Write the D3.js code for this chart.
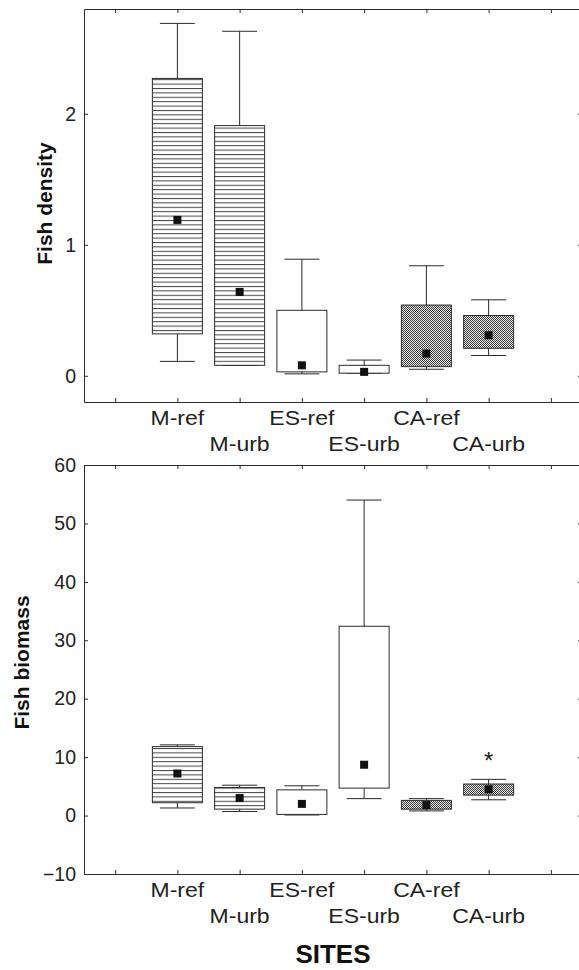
<!DOCTYPE html>
<html>
<head>
<meta charset="utf-8">
<script src="https://cdn.jsdelivr.net/npm/d3@7"></script>
<style>
  body { margin: 0; background: #fff; }
  svg { display: block; font-family: "Liberation Sans", Arial, sans-serif; }
</style>
</head>
<body>
<svg id="chart" width="579" height="970"></svg>
<script>
// sites, with an empty slot at each end of the axis
const sites = ["M-ref", "M-urb", "ES-ref", "ES-urb", "CA-ref", "CA-urb"];
const slots = ["pad0", ...sites, "pad1"];

// fish density
const densityMin  = [0.11, 0.08, 0.015, 0.02, 0.05, 0.155];
const densityQ1   = [0.32, 0.08, 0.03, 0.02, 0.07, 0.21];
const densityMean = [1.19, 0.64, 0.08, 0.03, 0.17, 0.31];
const densityQ3   = [2.27, 1.91, 0.50, 0.08, 0.54, 0.46];
const densityMax  = [2.69, 2.63, 0.89, 0.12, 0.84, 0.58];
const densityTicks = [0, 1, 2];

// fish biomass
const biomassMin  = [1.3, 0.7, 0.1, 2.9, 0.8, 2.7];
const biomassQ1   = [2.2, 1.1, 0.2, 4.7, 1.1, 3.5];
const biomassMean = [7.2, 3.0, 2.0, 8.7, 1.8, 4.5];
const biomassQ3   = [11.8, 4.8, 4.4, 32.4, 2.6, 5.4];
const biomassMax  = [12.1, 5.2, 5.1, 54.0, 2.9, 6.2];
const biomassTicks = [-10, 0, 10, 20, 30, 40, 50, 60];
const biomassStar = { site: "CA-urb", value: 10 };

const svg = d3.select("#chart");
const ink = "#2b2b2b";

// fill patterns
const defs = svg.append("defs");
const hl = defs.append("pattern").attr("id", "hlines")
  .attr("patternUnits", "userSpaceOnUse").attr("width", 8).attr("height", 4.4);
hl.append("rect").attr("width", 8).attr("height", 4.4).attr("fill", "#fff");
hl.append("line").attr("x1", 0).attr("x2", 8).attr("y1", 0.5).attr("y2", 0.5)
  .attr("stroke", "#444").attr("stroke-width", 1);

const ck = defs.append("pattern").attr("id", "checker")
  .attr("patternUnits", "userSpaceOnUse").attr("width", 2).attr("height", 2);
ck.append("rect").attr("width", 2).attr("height", 2).attr("fill", "#ececec");
ck.append("rect").attr("width", 1).attr("height", 1).attr("fill", "#3a3a3a");
ck.append("rect").attr("x", 1).attr("y", 1).attr("width", 1).attr("height", 1).attr("fill", "#3a3a3a");

const fillFor = s => s.startsWith("M-") ? "url(#hlines)" : s.startsWith("CA") ? "url(#checker)" : "#fff";

const x = d3.scalePoint().domain(slots).range([84, 582]).padding(0.5);

function drawPanel(p) {
  const y = d3.scaleLinear().domain(p.domain).range([p.bottom, p.top]);
  const g = svg.append("g");

  const rows = sites.map((s, i) => ({
    site: s, min: p.min[i], q1: p.q1[i], mean: p.mean[i], q3: p.q3[i], max: p.max[i]
  }));

  // axes (ticks point inward)
  const axes = [
    [d3.axisLeft(y).tickValues(p.ticks).tickFormat(d3.format("d")), `translate(84,0)`],
    [d3.axisRight(y).tickValues(p.ticks).tickFormat(""), `translate(582,0)`],
    [d3.axisBottom(x).tickFormat(""), `translate(0,${p.bottom})`],
    [d3.axisTop(x).tickFormat(""), `translate(0,${p.top})`]
  ];
  axes.forEach(([ax, tr]) => {
    const a = g.append("g").attr("transform", tr)
      .call(ax.tickSize(-4).tickSizeOuter(0).tickPadding(8));
    a.select(".domain").attr("stroke", ink);
    a.selectAll(".tick line").attr("stroke", ink);
    a.selectAll(".tick text").attr("fill", "#222").attr("font-size", 19.5)
      .attr("font-family", "Liberation Sans, Arial, sans-serif");
  });

  const cap = 17.5, half = 25;
  const box = g.selectAll(".box").data(rows).enter().append("g");

  box.append("line")
    .attr("x1", d => x(d.site)).attr("x2", d => x(d.site))
    .attr("y1", d => y(d.max)).attr("y2", d => y(d.min))
    .attr("stroke", ink);
  box.append("line")
    .attr("x1", d => x(d.site) - cap).attr("x2", d => x(d.site) + cap)
    .attr("y1", d => y(d.max)).attr("y2", d => y(d.max))
    .attr("stroke", ink);
  box.append("line")
    .attr("x1", d => x(d.site) - cap).attr("x2", d => x(d.site) + cap)
    .attr("y1", d => y(d.min)).attr("y2", d => y(d.min))
    .attr("stroke", ink);
  box.append("rect")
    .attr("x", d => x(d.site) - half).attr("width", half * 2)
    .attr("y", d => y(d.q3)).attr("height", d => Math.max(1, y(d.q1) - y(d.q3)))
    .attr("fill", d => fillFor(d.site))
    .attr("stroke", ink);
  box.append("rect")
    .attr("x", d => x(d.site) - 4).attr("y", d => y(d.mean) - 4)
    .attr("width", 8).attr("height", 8)
    .attr("fill", "#111");

  // staggered site labels, glyphs a little wide as in the original
  g.selectAll(".site").data(sites).enter().append("text")
    .attr("transform", (d, i) =>
      `translate(${x(d)},${p.bottom + (i % 2 === 0 ? 23 : 49)}) scale(1.15,1)`)
    .attr("text-anchor", "middle")
    .attr("font-size", 20)
    .attr("fill", "#222")
    .text(d => d);

  g.append("text")
    .attr("transform", `translate(${p.titleX},${(p.top + p.bottom) / 2 + p.titleDy}) rotate(-90)`)
    .attr("text-anchor", "middle")
    .attr("font-size", 21).attr("font-weight", "bold")
    .attr("fill", "#111")
    .text(p.title);

  if (p.star) {
    g.append("text")
      .attr("x", x(p.star.site)).attr("y", y(p.star.value) + 12)
      .attr("text-anchor", "middle")
      .attr("font-size", 24).attr("fill", "#222")
      .text("*");
  }
}

drawPanel({
  title: "Fish density", titleX: 52, titleDy: -2,
  top: 9, bottom: 402, domain: [-0.2, 2.8], ticks: densityTicks,
  min: densityMin, q1: densityQ1, mean: densityMean, q3: densityQ3, max: densityMax
});

drawPanel({
  title: "Fish biomass", titleX: 29, titleDy: -7,
  top: 465, bottom: 874, domain: [-10, 60], ticks: biomassTicks,
  min: biomassMin, q1: biomassQ1, mean: biomassMean, q3: biomassQ3, max: biomassMax,
  star: biomassStar
});

svg.append("text")
  .attr("x", 333).attr("y", 963)
  .attr("text-anchor", "middle")
  .attr("font-size", 26).attr("font-weight", "bold")
  .attr("fill", "#111")
  .text("SITES");
</script>
</body>
</html>
